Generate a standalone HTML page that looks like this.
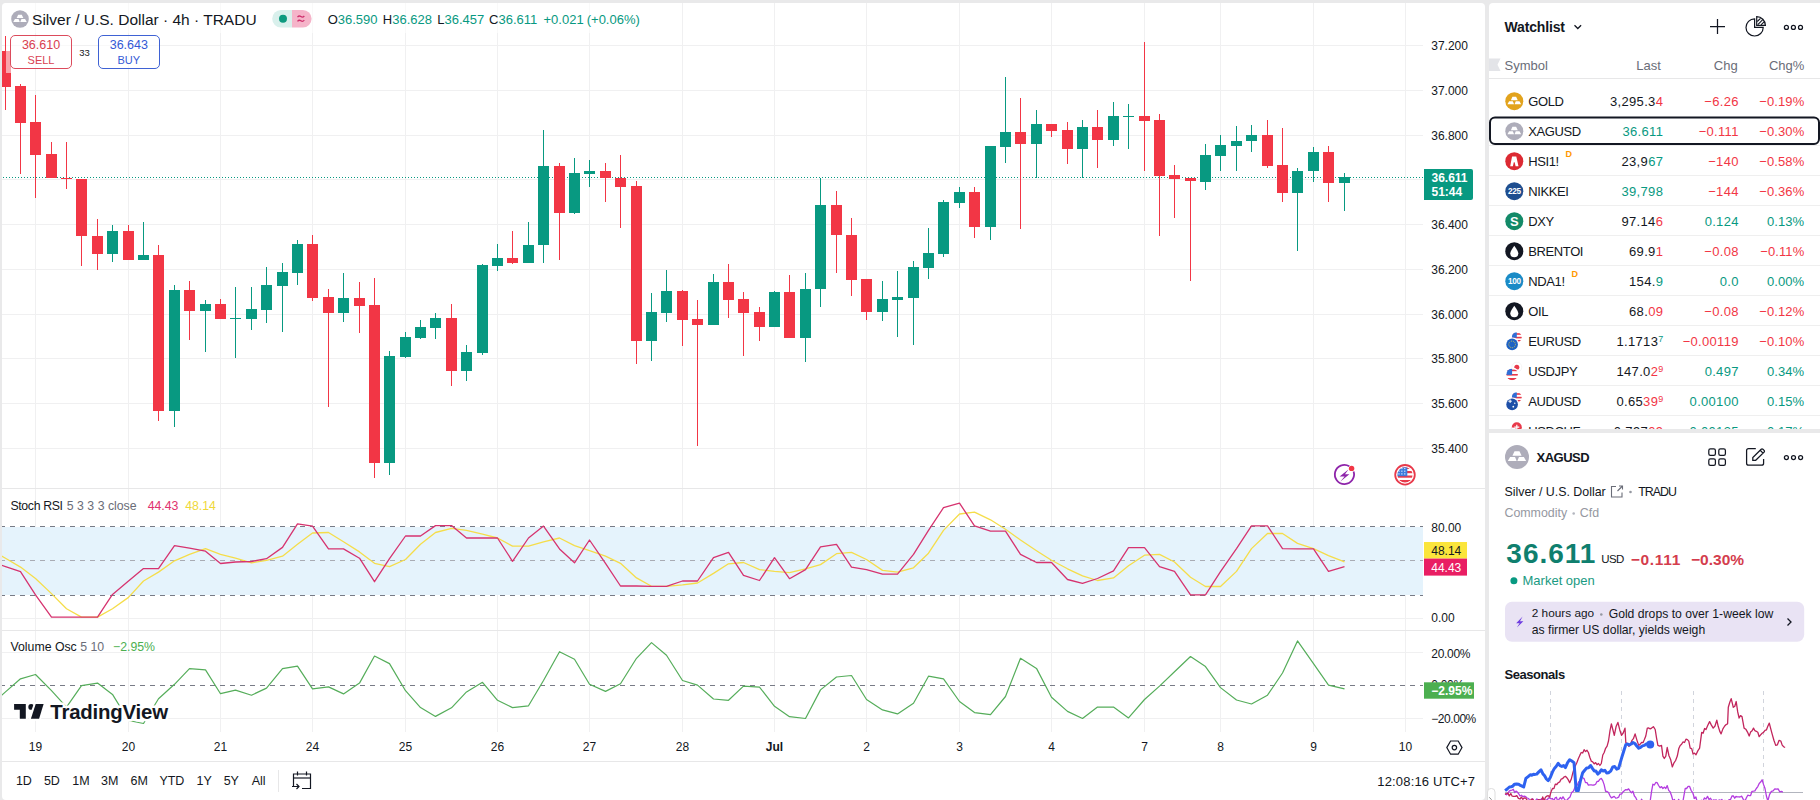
<!DOCTYPE html><html><head><meta charset="utf-8"><style>

*{box-sizing:border-box;margin:0;padding:0}
html,body{width:1820px;height:800px;overflow:hidden;background:#e9e9ea;font-family:"Liberation Sans",sans-serif;}
.abs{position:absolute;left:0;top:0}
.t{position:absolute;white-space:nowrap;line-height:1}
.sp{font-size:9px;position:relative;top:-4px;letter-spacing:0}
#chart{position:absolute;left:2px;top:3px;width:1483px;height:797px;background:#fff;border-radius:4px;overflow:hidden}
#chart .inner{position:absolute;left:-2px;top:-3px;width:1820px;height:800px}
#wl{position:absolute;left:1489px;top:3px;width:331px;height:426px;background:#fff;border-radius:4px 0 0 0;overflow:hidden}
#wl .inner,#dt .inner{position:absolute;left:-1489px;top:-3px;width:1820px;height:800px}
#dt .inner{top:-433px}
#dt{position:absolute;left:1489px;top:433px;width:331px;height:370px;background:#fff;border-radius:0;overflow:hidden}

</style></head><body>
<div id="chart"><div class="inner">
<svg class="abs" width="1485" height="800" viewBox="0 0 1485 800"><g shape-rendering="crispEdges">
<line x1="35.5" y1="0" x2="35.5" y2="488" stroke="#f0f0f1" />
<line x1="35.5" y1="489" x2="35.5" y2="630" stroke="#f0f0f1" />
<line x1="35.5" y1="631" x2="35.5" y2="732" stroke="#f0f0f1" />
<line x1="128.5" y1="0" x2="128.5" y2="488" stroke="#f0f0f1" />
<line x1="128.5" y1="489" x2="128.5" y2="630" stroke="#f0f0f1" />
<line x1="128.5" y1="631" x2="128.5" y2="732" stroke="#f0f0f1" />
<line x1="220.5" y1="0" x2="220.5" y2="488" stroke="#f0f0f1" />
<line x1="220.5" y1="489" x2="220.5" y2="630" stroke="#f0f0f1" />
<line x1="220.5" y1="631" x2="220.5" y2="732" stroke="#f0f0f1" />
<line x1="312.5" y1="0" x2="312.5" y2="488" stroke="#f0f0f1" />
<line x1="312.5" y1="489" x2="312.5" y2="630" stroke="#f0f0f1" />
<line x1="312.5" y1="631" x2="312.5" y2="732" stroke="#f0f0f1" />
<line x1="405.5" y1="0" x2="405.5" y2="488" stroke="#f0f0f1" />
<line x1="405.5" y1="489" x2="405.5" y2="630" stroke="#f0f0f1" />
<line x1="405.5" y1="631" x2="405.5" y2="732" stroke="#f0f0f1" />
<line x1="497.5" y1="0" x2="497.5" y2="488" stroke="#f0f0f1" />
<line x1="497.5" y1="489" x2="497.5" y2="630" stroke="#f0f0f1" />
<line x1="497.5" y1="631" x2="497.5" y2="732" stroke="#f0f0f1" />
<line x1="589.5" y1="0" x2="589.5" y2="488" stroke="#f0f0f1" />
<line x1="589.5" y1="489" x2="589.5" y2="630" stroke="#f0f0f1" />
<line x1="589.5" y1="631" x2="589.5" y2="732" stroke="#f0f0f1" />
<line x1="682.5" y1="0" x2="682.5" y2="488" stroke="#f0f0f1" />
<line x1="682.5" y1="489" x2="682.5" y2="630" stroke="#f0f0f1" />
<line x1="682.5" y1="631" x2="682.5" y2="732" stroke="#f0f0f1" />
<line x1="774.5" y1="0" x2="774.5" y2="488" stroke="#f0f0f1" />
<line x1="774.5" y1="489" x2="774.5" y2="630" stroke="#f0f0f1" />
<line x1="774.5" y1="631" x2="774.5" y2="732" stroke="#f0f0f1" />
<line x1="866.5" y1="0" x2="866.5" y2="488" stroke="#f0f0f1" />
<line x1="866.5" y1="489" x2="866.5" y2="630" stroke="#f0f0f1" />
<line x1="866.5" y1="631" x2="866.5" y2="732" stroke="#f0f0f1" />
<line x1="959.5" y1="0" x2="959.5" y2="488" stroke="#f0f0f1" />
<line x1="959.5" y1="489" x2="959.5" y2="630" stroke="#f0f0f1" />
<line x1="959.5" y1="631" x2="959.5" y2="732" stroke="#f0f0f1" />
<line x1="1051.5" y1="0" x2="1051.5" y2="488" stroke="#f0f0f1" />
<line x1="1051.5" y1="489" x2="1051.5" y2="630" stroke="#f0f0f1" />
<line x1="1051.5" y1="631" x2="1051.5" y2="732" stroke="#f0f0f1" />
<line x1="1144.5" y1="0" x2="1144.5" y2="488" stroke="#f0f0f1" />
<line x1="1144.5" y1="489" x2="1144.5" y2="630" stroke="#f0f0f1" />
<line x1="1144.5" y1="631" x2="1144.5" y2="732" stroke="#f0f0f1" />
<line x1="1220.5" y1="0" x2="1220.5" y2="488" stroke="#f0f0f1" />
<line x1="1220.5" y1="489" x2="1220.5" y2="630" stroke="#f0f0f1" />
<line x1="1220.5" y1="631" x2="1220.5" y2="732" stroke="#f0f0f1" />
<line x1="1313.5" y1="0" x2="1313.5" y2="488" stroke="#f0f0f1" />
<line x1="1313.5" y1="489" x2="1313.5" y2="630" stroke="#f0f0f1" />
<line x1="1313.5" y1="631" x2="1313.5" y2="732" stroke="#f0f0f1" />
<line x1="1405.5" y1="0" x2="1405.5" y2="488" stroke="#f0f0f1" />
<line x1="1405.5" y1="489" x2="1405.5" y2="630" stroke="#f0f0f1" />
<line x1="1405.5" y1="631" x2="1405.5" y2="732" stroke="#f0f0f1" />
<line x1="0" y1="45.5" x2="1423" y2="45.5" stroke="#f0f0f1" />
<line x1="0" y1="90.5" x2="1423" y2="90.5" stroke="#f0f0f1" />
<line x1="0" y1="135.5" x2="1423" y2="135.5" stroke="#f0f0f1" />
<line x1="0" y1="179.5" x2="1423" y2="179.5" stroke="#f0f0f1" />
<line x1="0" y1="224.5" x2="1423" y2="224.5" stroke="#f0f0f1" />
<line x1="0" y1="269.5" x2="1423" y2="269.5" stroke="#f0f0f1" />
<line x1="0" y1="314.5" x2="1423" y2="314.5" stroke="#f0f0f1" />
<line x1="0" y1="358.5" x2="1423" y2="358.5" stroke="#f0f0f1" />
<line x1="0" y1="403.5" x2="1423" y2="403.5" stroke="#f0f0f1" />
<line x1="0" y1="448.5" x2="1423" y2="448.5" stroke="#f0f0f1" />
<line x1="0" y1="572.5" x2="1423" y2="572.5" stroke="#f0f0f1" />
<line x1="0" y1="618.5" x2="1423" y2="618.5" stroke="#f0f0f1" />
<line x1="0" y1="652.5" x2="1423" y2="652.5" stroke="#f0f0f1" />
<line x1="0" y1="718.5" x2="1423" y2="718.5" stroke="#f0f0f1" />
<rect x="0" y="527" width="1423" height="68" fill="#e5f3fc" />
<line x1="0" y1="526.5" x2="1423" y2="526.5" stroke="#787b86" stroke-dasharray="5 5" />
<line x1="0" y1="595.5" x2="1423" y2="595.5" stroke="#787b86" stroke-dasharray="5 5" />
<line x1="0" y1="560.5" x2="1423" y2="560.5" stroke="#a9acb4" stroke-dasharray="5 5" />
<line x1="0" y1="685.5" x2="1423" y2="685.5" stroke="#787b86" stroke-dasharray="5 5" />
<line x1="0" y1="488.5" x2="1485" y2="488.5" stroke="#e7e7e8" />
<line x1="0" y1="630.5" x2="1485" y2="630.5" stroke="#e7e7e8" />
<line x1="0" y1="761.5" x2="1485" y2="761.5" stroke="#e7e7e8" />
<line x1="0" y1="177.5" x2="1423" y2="177.5" stroke="#089981" stroke-dasharray="1 2" />
<rect x="5" y="36" width="1" height="74" fill="#f23645" />
<rect x="0" y="51" width="11" height="36" fill="#f23645" />
<rect x="20" y="84" width="1" height="90" fill="#f23645" />
<rect x="15" y="86" width="11" height="37" fill="#f23645" />
<rect x="35" y="95" width="1" height="103" fill="#f23645" />
<rect x="30" y="122" width="11" height="33" fill="#f23645" />
<rect x="51" y="142" width="1" height="36" fill="#f23645" />
<rect x="46" y="154" width="11" height="24" fill="#f23645" />
<rect x="66" y="142" width="1" height="47" fill="#f23645" />
<rect x="61" y="178" width="11" height="1" fill="#f23645" />
<rect x="81" y="179" width="1" height="87" fill="#f23645" />
<rect x="76" y="179" width="11" height="57" fill="#f23645" />
<rect x="97" y="219" width="1" height="51" fill="#f23645" />
<rect x="92" y="236" width="11" height="18" fill="#f23645" />
<rect x="112" y="225" width="1" height="37" fill="#089981" />
<rect x="107" y="231" width="11" height="23" fill="#089981" />
<rect x="128" y="225" width="1" height="35" fill="#f23645" />
<rect x="123" y="231" width="11" height="29" fill="#f23645" />
<rect x="143" y="222" width="1" height="38" fill="#089981" />
<rect x="138" y="255" width="11" height="5" fill="#089981" />
<rect x="158" y="245" width="1" height="176" fill="#f23645" />
<rect x="153" y="255" width="11" height="156" fill="#f23645" />
<rect x="174" y="285" width="1" height="142" fill="#089981" />
<rect x="169" y="290" width="11" height="121" fill="#089981" />
<rect x="189" y="281" width="1" height="59" fill="#f23645" />
<rect x="184" y="290" width="11" height="21" fill="#f23645" />
<rect x="205" y="300" width="1" height="52" fill="#089981" />
<rect x="200" y="304" width="11" height="7" fill="#089981" />
<rect x="220" y="299" width="1" height="20" fill="#f23645" />
<rect x="215" y="304" width="11" height="15" fill="#f23645" />
<rect x="235" y="287" width="1" height="71" fill="#089981" />
<rect x="230" y="318" width="11" height="1" fill="#089981" />
<rect x="251" y="287" width="1" height="43" fill="#089981" />
<rect x="246" y="309" width="11" height="10" fill="#089981" />
<rect x="266" y="267" width="1" height="56" fill="#089981" />
<rect x="261" y="285" width="11" height="25" fill="#089981" />
<rect x="282" y="263" width="1" height="69" fill="#089981" />
<rect x="277" y="272" width="11" height="14" fill="#089981" />
<rect x="297" y="240" width="1" height="45" fill="#089981" />
<rect x="292" y="244" width="11" height="29" fill="#089981" />
<rect x="312" y="235" width="1" height="66" fill="#f23645" />
<rect x="307" y="244" width="11" height="54" fill="#f23645" />
<rect x="328" y="289" width="1" height="118" fill="#f23645" />
<rect x="323" y="297" width="11" height="16" fill="#f23645" />
<rect x="343" y="273" width="1" height="49" fill="#089981" />
<rect x="338" y="298" width="11" height="15" fill="#089981" />
<rect x="359" y="282" width="1" height="51" fill="#f23645" />
<rect x="354" y="298" width="11" height="8" fill="#f23645" />
<rect x="374" y="278" width="1" height="200" fill="#f23645" />
<rect x="369" y="305" width="11" height="158" fill="#f23645" />
<rect x="389" y="351" width="1" height="124" fill="#089981" />
<rect x="384" y="356" width="11" height="107" fill="#089981" />
<rect x="405" y="332" width="1" height="26" fill="#089981" />
<rect x="400" y="337" width="11" height="20" fill="#089981" />
<rect x="420" y="320" width="1" height="19" fill="#089981" />
<rect x="415" y="327" width="11" height="11" fill="#089981" />
<rect x="435" y="313" width="1" height="26" fill="#089981" />
<rect x="430" y="318" width="11" height="10" fill="#089981" />
<rect x="451" y="304" width="1" height="82" fill="#f23645" />
<rect x="446" y="318" width="11" height="53" fill="#f23645" />
<rect x="466" y="345" width="1" height="36" fill="#089981" />
<rect x="461" y="352" width="11" height="19" fill="#089981" />
<rect x="482" y="264" width="1" height="91" fill="#089981" />
<rect x="477" y="265" width="11" height="88" fill="#089981" />
<rect x="497" y="244" width="1" height="27" fill="#089981" />
<rect x="492" y="258" width="11" height="8" fill="#089981" />
<rect x="512" y="231" width="1" height="33" fill="#f23645" />
<rect x="507" y="258" width="11" height="5" fill="#f23645" />
<rect x="528" y="222" width="1" height="41" fill="#089981" />
<rect x="523" y="245" width="11" height="18" fill="#089981" />
<rect x="543" y="130" width="1" height="133" fill="#089981" />
<rect x="538" y="166" width="11" height="79" fill="#089981" />
<rect x="559" y="163" width="1" height="97" fill="#f23645" />
<rect x="554" y="166" width="11" height="47" fill="#f23645" />
<rect x="574" y="158" width="1" height="56" fill="#089981" />
<rect x="569" y="173" width="11" height="40" fill="#089981" />
<rect x="589" y="160" width="1" height="27" fill="#089981" />
<rect x="584" y="171" width="11" height="3" fill="#089981" />
<rect x="605" y="163" width="1" height="39" fill="#f23645" />
<rect x="600" y="171" width="11" height="7" fill="#f23645" />
<rect x="620" y="155" width="1" height="73" fill="#f23645" />
<rect x="615" y="178" width="11" height="9" fill="#f23645" />
<rect x="636" y="181" width="1" height="183" fill="#f23645" />
<rect x="631" y="186" width="11" height="155" fill="#f23645" />
<rect x="651" y="293" width="1" height="68" fill="#089981" />
<rect x="646" y="312" width="11" height="29" fill="#089981" />
<rect x="666" y="270" width="1" height="52" fill="#089981" />
<rect x="661" y="291" width="11" height="22" fill="#089981" />
<rect x="682" y="290" width="1" height="56" fill="#f23645" />
<rect x="677" y="291" width="11" height="29" fill="#f23645" />
<rect x="697" y="300" width="1" height="146" fill="#f23645" />
<rect x="692" y="319" width="11" height="6" fill="#f23645" />
<rect x="713" y="274" width="1" height="51" fill="#089981" />
<rect x="708" y="282" width="11" height="43" fill="#089981" />
<rect x="728" y="264" width="1" height="54" fill="#f23645" />
<rect x="723" y="282" width="11" height="18" fill="#f23645" />
<rect x="743" y="292" width="1" height="64" fill="#f23645" />
<rect x="738" y="299" width="11" height="14" fill="#f23645" />
<rect x="759" y="307" width="1" height="34" fill="#f23645" />
<rect x="754" y="312" width="11" height="15" fill="#f23645" />
<rect x="774" y="291" width="1" height="36" fill="#089981" />
<rect x="769" y="292" width="11" height="35" fill="#089981" />
<rect x="789" y="275" width="1" height="63" fill="#f23645" />
<rect x="784" y="292" width="11" height="46" fill="#f23645" />
<rect x="805" y="273" width="1" height="89" fill="#089981" />
<rect x="800" y="289" width="11" height="49" fill="#089981" />
<rect x="820" y="178" width="1" height="129" fill="#089981" />
<rect x="815" y="205" width="11" height="84" fill="#089981" />
<rect x="836" y="191" width="1" height="82" fill="#f23645" />
<rect x="831" y="205" width="11" height="30" fill="#f23645" />
<rect x="851" y="218" width="1" height="78" fill="#f23645" />
<rect x="846" y="235" width="11" height="45" fill="#f23645" />
<rect x="866" y="279" width="1" height="41" fill="#f23645" />
<rect x="861" y="279" width="11" height="33" fill="#f23645" />
<rect x="882" y="281" width="1" height="40" fill="#089981" />
<rect x="877" y="299" width="11" height="13" fill="#089981" />
<rect x="897" y="271" width="1" height="66" fill="#089981" />
<rect x="892" y="297" width="11" height="3" fill="#089981" />
<rect x="913" y="261" width="1" height="84" fill="#089981" />
<rect x="908" y="267" width="11" height="31" fill="#089981" />
<rect x="928" y="228" width="1" height="51" fill="#089981" />
<rect x="923" y="253" width="11" height="15" fill="#089981" />
<rect x="943" y="200" width="1" height="57" fill="#089981" />
<rect x="938" y="202" width="11" height="52" fill="#089981" />
<rect x="959" y="187" width="1" height="21" fill="#089981" />
<rect x="954" y="192" width="11" height="11" fill="#089981" />
<rect x="974" y="187" width="1" height="51" fill="#f23645" />
<rect x="969" y="192" width="11" height="35" fill="#f23645" />
<rect x="990" y="146" width="1" height="94" fill="#089981" />
<rect x="985" y="146" width="11" height="81" fill="#089981" />
<rect x="1005" y="77" width="1" height="86" fill="#089981" />
<rect x="1000" y="132" width="11" height="15" fill="#089981" />
<rect x="1020" y="98" width="1" height="131" fill="#f23645" />
<rect x="1015" y="132" width="11" height="12" fill="#f23645" />
<rect x="1036" y="110" width="1" height="68" fill="#089981" />
<rect x="1031" y="124" width="11" height="20" fill="#089981" />
<rect x="1051" y="124" width="1" height="13" fill="#f23645" />
<rect x="1046" y="124" width="11" height="7" fill="#f23645" />
<rect x="1067" y="122" width="1" height="42" fill="#f23645" />
<rect x="1062" y="130" width="11" height="19" fill="#f23645" />
<rect x="1082" y="120" width="1" height="58" fill="#089981" />
<rect x="1077" y="127" width="11" height="22" fill="#089981" />
<rect x="1097" y="110" width="1" height="58" fill="#f23645" />
<rect x="1092" y="127" width="11" height="13" fill="#f23645" />
<rect x="1113" y="102" width="1" height="44" fill="#089981" />
<rect x="1108" y="116" width="11" height="24" fill="#089981" />
<rect x="1128" y="104" width="1" height="45" fill="#089981" />
<rect x="1123" y="116" width="11" height="1" fill="#089981" />
<rect x="1144" y="42" width="1" height="129" fill="#f23645" />
<rect x="1139" y="116" width="11" height="5" fill="#f23645" />
<rect x="1159" y="114" width="1" height="122" fill="#f23645" />
<rect x="1154" y="120" width="11" height="56" fill="#f23645" />
<rect x="1174" y="165" width="1" height="53" fill="#f23645" />
<rect x="1169" y="175" width="11" height="4" fill="#f23645" />
<rect x="1190" y="178" width="1" height="103" fill="#f23645" />
<rect x="1185" y="178" width="11" height="3" fill="#f23645" />
<rect x="1205" y="144" width="1" height="46" fill="#089981" />
<rect x="1200" y="155" width="11" height="27" fill="#089981" />
<rect x="1220" y="135" width="1" height="36" fill="#089981" />
<rect x="1215" y="145" width="11" height="11" fill="#089981" />
<rect x="1236" y="126" width="1" height="45" fill="#089981" />
<rect x="1231" y="141" width="11" height="5" fill="#089981" />
<rect x="1251" y="125" width="1" height="27" fill="#089981" />
<rect x="1246" y="135" width="11" height="6" fill="#089981" />
<rect x="1267" y="120" width="1" height="48" fill="#f23645" />
<rect x="1262" y="135" width="11" height="31" fill="#f23645" />
<rect x="1282" y="128" width="1" height="74" fill="#f23645" />
<rect x="1277" y="165" width="11" height="28" fill="#f23645" />
<rect x="1297" y="168" width="1" height="83" fill="#089981" />
<rect x="1292" y="171" width="11" height="22" fill="#089981" />
<rect x="1313" y="147" width="1" height="35" fill="#089981" />
<rect x="1308" y="152" width="11" height="19" fill="#089981" />
<rect x="1328" y="146" width="1" height="56" fill="#f23645" />
<rect x="1323" y="152" width="11" height="31" fill="#f23645" />
<rect x="1344" y="173" width="1" height="38" fill="#089981" />
<rect x="1339" y="177" width="11" height="6" fill="#089981" />
</g>
<rect x="0" y="3" width="645" height="30" fill="#fff" fill-opacity="0.6" />
<rect x="6" y="35" width="5" height="38" fill="#fff" fill-opacity="0.55" />
<polyline points="0,555.0 5.5,558.2 20.5,567.1 35.5,578.5 51.5,593.6 66.5,608.8 81.5,617.1 97.5,617.1 112.5,608.8 128.5,597.4 143.5,581.0 158.5,572.1 174.5,560.8 189.5,554.4 205.5,548.6 220.5,554.4 235.5,558.2 251.5,562.8 266.5,560.3 282.5,556.2 297.5,544.3 312.5,533.0 328.5,532.5 343.5,541.8 359.5,551.9 374.5,563.3 389.5,566.6 405.5,559.5 420.5,544.3 435.5,532.5 451.5,528.4 466.5,530.4 482.5,534.2 497.5,538.0 512.5,546.1 528.5,546.1 543.5,541.8 559.5,538.0 574.5,545.6 589.5,550.7 605.5,556.2 620.5,563.3 636.5,577.9 651.5,586.3 666.5,586.3 682.5,584.8 697.5,583.0 713.5,573.4 728.5,563.8 743.5,562.5 759.5,569.6 774.5,571.4 789.5,572.6 805.5,568.8 820.5,564.6 836.5,553.7 851.5,552.4 866.5,559.5 882.5,570.4 897.5,572.1 913.5,567.8 928.5,553.2 943.5,530.4 959.5,514.0 974.5,512.2 990.5,519.8 1005.5,529.2 1020.5,540.0 1036.5,550.7 1051.5,560.3 1067.5,568.8 1082.5,575.9 1097.5,580.5 1113.5,577.9 1128.5,565.8 1144.5,555.2 1159.5,554.4 1174.5,562.0 1190.5,577.2 1205.5,586.5 1220.5,586.5 1236.5,571.4 1251.5,548.6 1267.5,533.5 1282.5,533.5 1297.5,543.4 1313.5,548.6 1328.5,555.6 1344.5,561.8" fill="none" stroke="#f5dd4a" stroke-width="1.3" stroke-linejoin="round" />
<polyline points="0,564.7 5.5,566.6 20.5,571.6 35.5,594.9 51.5,617.1 66.5,617.1 81.5,617.1 97.5,617.1 112.5,594.4 128.5,581.0 143.5,568.6 158.5,568.6 174.5,545.6 189.5,548.1 205.5,551.2 220.5,563.5 235.5,562.0 251.5,561.5 266.5,558.7 282.5,547.4 297.5,523.9 312.5,526.1 328.5,548.9 343.5,548.9 359.5,558.2 374.5,581.7 389.5,558.7 405.5,536.0 420.5,536.0 435.5,525.6 451.5,525.6 466.5,538.0 482.5,538.0 497.5,538.0 512.5,561.3 528.5,538.0 543.5,526.1 559.5,548.9 574.5,562.8 589.5,540.0 605.5,563.3 620.5,586.0 636.5,586.0 651.5,586.3 666.5,586.3 682.5,581.0 697.5,581.0 713.5,557.7 728.5,552.4 743.5,575.4 759.5,580.5 774.5,557.7 789.5,578.7 805.5,569.6 820.5,546.9 836.5,544.3 851.5,567.1 866.5,569.6 882.5,574.2 897.5,574.2 913.5,554.4 928.5,530.4 943.5,507.7 959.5,503.1 974.5,525.9 990.5,531.2 1005.5,531.2 1020.5,554.4 1036.5,562.5 1051.5,562.5 1067.5,579.5 1082.5,583.3 1097.5,578.5 1113.5,570.9 1128.5,547.6 1144.5,547.6 1159.5,566.6 1174.5,571.4 1190.5,594.9 1205.5,594.9 1220.5,571.6 1236.5,548.6 1251.5,525.9 1267.5,525.9 1282.5,548.6 1297.5,548.8 1313.5,548.8 1328.5,571.4 1344.5,566.7" fill="none" stroke="#d6336f" stroke-width="1.3" stroke-linejoin="round" />
<polyline points="0,696.7 5.5,691.9 20.5,678.8 35.5,674.5 51.5,690.7 66.5,707.1 81.5,685.6 97.5,683.1 112.5,694.4 128.5,720.5 143.5,723.5 158.5,698.7 174.5,684.3 189.5,668.7 205.5,669.9 220.5,693.7 235.5,690.1 251.5,695.2 266.5,688.1 282.5,668.7 297.5,666.1 312.5,688.9 328.5,686.9 343.5,693.9 359.5,683.1 374.5,656.0 389.5,663.6 405.5,690.7 420.5,707.6 435.5,716.4 451.5,707.8 466.5,691.9 482.5,682.3 497.5,700.3 512.5,707.6 528.5,705.8 543.5,680.5 559.5,651.7 574.5,659.3 589.5,684.3 605.5,691.4 620.5,683.8 636.5,658.3 651.5,642.6 666.5,655.3 682.5,680.5 697.5,685.1 713.5,699.0 728.5,700.3 743.5,686.1 759.5,687.1 774.5,706.3 789.5,716.7 805.5,718.5 820.5,689.9 836.5,677.0 851.5,675.5 866.5,699.5 882.5,709.9 897.5,713.9 913.5,703.3 928.5,676.2 943.5,678.8 959.5,701.5 974.5,712.6 990.5,714.7 1005.5,696.5 1020.5,658.3 1036.5,668.4 1051.5,697.2 1067.5,711.4 1082.5,718.5 1097.5,707.1 1113.5,707.1 1128.5,717.9 1144.5,699.5 1159.5,686.1 1174.5,671.7 1190.5,656.5 1205.5,666.6 1220.5,687.6 1236.5,700.0 1251.5,704.0 1267.5,695.2 1282.5,673.0 1297.5,640.9 1313.5,663.6 1328.5,685.1 1344.5,688.9" fill="none" stroke="#55ad5a" stroke-width="1.2" stroke-linejoin="round" />
<rect x="10.5" y="35.5" width="61" height="33" rx="4.5" fill="#fff" fill-opacity="0.6" stroke="#dc4b5c" />
<rect x="98.5" y="35.5" width="61" height="33" rx="4.5" fill="#fff" fill-opacity="0.6" stroke="#3f62d4" />
<g transform="translate(20,19) scale(0.9777777777777779)"><circle cx="0" cy="0" r="9" fill="#aeadba" /><path d="M-1.85,-4.37 L1.85,-4.37 L3.44,-0.93 L-3.44,-0.93 Z" fill="#fff"/><path d="M-5.16,0 L-1.46,0 L-0.26,3.04 L-6.88,3.04 Z" fill="#fff"/><path d="M1.46,0 L5.16,0 L6.88,3.04 L0.26,3.04 Z" fill="#fff"/></g>
<path d="M281,10 H292 V27.6 H281 A8.8,8.8 0 0 1 281,10 Z" fill="#d9f0ec" />
<path d="M292,10 H302.8 A8.8,8.8 0 0 1 302.8,27.6 H292 Z" fill="#f5b4c9" />
<circle cx="283" cy="18.8" r="4" fill="#0e9a7f" />
<path d="M297.5,17.2 q1.6,-2 3.4,-0.6 q1.8,1.4 3.4,-0.6 M297.5,21.4 q1.6,-2 3.4,-0.6 q1.8,1.4 3.4,-0.6" fill="none" stroke="#cf2f6c" stroke-width="1.3" />
<path d="M1424,169 H1471 A2,2 0 0 1 1473,171 V198 A2,2 0 0 1 1471,200 H1424 Z" fill="#089981" />
<g fill="none" stroke="#8e24aa" stroke-width="1.8"><path d="M1349.3,466.2 A9.6,9.6 0 1 0 1353.6,471.6" /></g>
<circle cx="1351.6" cy="468.4" r="2.7" fill="#f23645" />
<path d="M1348.4,469.5 L1339.6,476.4 L1344.6,476.4 L1340.4,481.4 L1349.4,474.3 L1345.0,474.3 Z" fill="#8e24aa" />
<circle cx="1405" cy="474.8" r="9.8" fill="#fff" stroke="#e8394a" stroke-width="1.8" />
<clipPath id="fc"><circle cx="1405" cy="474.8" r="7.6" /></clipPath>
<g clip-path="url(#fc)"><rect x="1396" y="466" width="18" height="18" fill="#fff"/><rect x="1396" y="467" width="18" height="2" fill="#e8394a"/><rect x="1396" y="471" width="18" height="2.2" fill="#e8394a"/><rect x="1396" y="475.5" width="18" height="2.2" fill="#e8394a"/><rect x="1396" y="480" width="18" height="3" fill="#e8394a"/><rect x="1396" y="466" width="11.3" height="10.2" fill="#3d7bdc"/><rect x="1398.3" y="467.9" width="1.3" height="1.2" fill="#cfe6ff"/><rect x="1398.3" y="470.6" width="1.3" height="1.2" fill="#cfe6ff"/><rect x="1398.3" y="473.3" width="1.3" height="1.2" fill="#cfe6ff"/><rect x="1401.2" y="467.9" width="1.3" height="1.2" fill="#cfe6ff"/><rect x="1401.2" y="470.6" width="1.3" height="1.2" fill="#cfe6ff"/><rect x="1401.2" y="473.3" width="1.3" height="1.2" fill="#cfe6ff"/><rect x="1404.1" y="467.9" width="1.3" height="1.2" fill="#cfe6ff"/><rect x="1404.1" y="470.6" width="1.3" height="1.2" fill="#cfe6ff"/><rect x="1404.1" y="473.3" width="1.3" height="1.2" fill="#cfe6ff"/></g>
<rect x="1424" y="542" width="43" height="16.6" fill="#fbe53c" />
<rect x="1424" y="558.6" width="43" height="17" fill="#e91e63" />
<text x="1431.3" y="688.6" font-family="Liberation Sans" font-size="12" fill="#131722" letter-spacing="-0.3">0.00%</text>
<rect x="1424" y="682.3" width="50" height="16.4" fill="#4caf50" />
<g fill="#131722" stroke="#fff" stroke-width="4" stroke-linejoin="round" paint-order="stroke"><path d="M14.1,704.1 H25.8 V718.7 H19.8 V709.8 H14.1 Z" /><circle cx="31.2" cy="706.9" r="2.9" /><path d="M35.7,704.1 H43.6 L39.1,718.7 H30.9 Z" /></g>
<text x="50.3" y="718.7" font-family="Liberation Sans" font-weight="700" font-size="20.4" letter-spacing="-0.2" fill="#131722" stroke="#fff" stroke-width="5" stroke-linejoin="round" paint-order="stroke">TradingView</text>
<path d="M1450.6,741 L1458.2,741 L1462,747.6 L1458.2,754.2 L1450.6,754.2 L1446.8,747.6 Z" fill="none" stroke="#131722" stroke-width="1.2" />
<circle cx="1454.4" cy="747.6" r="2.2" fill="none" stroke="#131722" stroke-width="1.2" />
<rect x="278" y="770" width="1" height="22" fill="#e7e7e8" />
<g fill="none" stroke="#131722" stroke-width="1.2"><path d="M293.5,786 V774 H310.5 V788.5 H302" /><path d="M293.5,778 H310.5" /><path d="M297.5,771.5 V775.5 M306.5,771.5 V775.5" /><path d="M292,786.5 H299 M296.5,784 L299,786.5 L296.5,789" /></g></svg>
<div class="t" style="left:41.00px;transform:translateX(-50%);top:39.29px;font-size:12.5px;color:#d9404f;font-weight:400;">36.610</div>
<div class="t" style="left:41.00px;transform:translateX(-50%);top:54.63px;font-size:11px;color:#d9404f;font-weight:400;">SELL</div>
<div class="t" style="left:84.50px;transform:translateX(-50%);top:48.26px;font-size:9.5px;color:#131722;font-weight:400;">33</div>
<div class="t" style="left:128.80px;transform:translateX(-50%);top:39.29px;font-size:12.5px;color:#3459d6;font-weight:400;">36.643</div>
<div class="t" style="left:128.80px;transform:translateX(-50%);top:54.63px;font-size:11px;color:#3459d6;font-weight:400;">BUY</div>
<div class="t" style="left:32.07px;top:11.73px;font-size:15.5px;color:#131722;font-weight:400;">Silver / U.S. Dollar · 4h · TRADU</div>
<div class="t" style="left:327.82px;top:12.95px;font-size:13px;color:#131722;font-weight:400;">O</div>
<div class="t" style="left:337.72px;top:12.95px;font-size:13px;color:#089981;font-weight:400;">36.590</div>
<div class="t" style="left:382.72px;top:12.95px;font-size:13px;color:#131722;font-weight:400;">H</div>
<div class="t" style="left:392.22px;top:12.95px;font-size:13px;color:#089981;font-weight:400;">36.628</div>
<div class="t" style="left:437.22px;top:12.95px;font-size:13px;color:#131722;font-weight:400;">L</div>
<div class="t" style="left:444.52px;top:12.95px;font-size:13px;color:#089981;font-weight:400;">36.457</div>
<div class="t" style="left:489.12px;top:12.95px;font-size:13px;color:#131722;font-weight:400;">C</div>
<div class="t" style="left:498.52px;top:12.95px;font-size:13px;color:#089981;font-weight:400;">36.611</div>
<div class="t" style="left:543.52px;top:12.95px;font-size:13px;color:#089981;font-weight:400;">+0.021</div>
<div class="t" style="left:586.72px;top:12.95px;font-size:13px;color:#089981;font-weight:400;">(+0.06%)</div>
<div class="t" style="left:1431.28px;top:39.94px;font-size:12px;color:#131722;font-weight:400;">37.200</div>
<div class="t" style="left:1431.28px;top:84.72px;font-size:12px;color:#131722;font-weight:400;">37.000</div>
<div class="t" style="left:1431.28px;top:129.50px;font-size:12px;color:#131722;font-weight:400;">36.800</div>
<div class="t" style="left:1431.28px;top:219.06px;font-size:12px;color:#131722;font-weight:400;">36.400</div>
<div class="t" style="left:1431.28px;top:263.84px;font-size:12px;color:#131722;font-weight:400;">36.200</div>
<div class="t" style="left:1431.28px;top:308.62px;font-size:12px;color:#131722;font-weight:400;">36.000</div>
<div class="t" style="left:1431.28px;top:353.40px;font-size:12px;color:#131722;font-weight:400;">35.800</div>
<div class="t" style="left:1431.28px;top:398.18px;font-size:12px;color:#131722;font-weight:400;">35.600</div>
<div class="t" style="left:1431.28px;top:442.96px;font-size:12px;color:#131722;font-weight:400;">35.400</div>
<div class="t" style="left:1431.48px;top:171.64px;font-size:12px;color:#fff;font-weight:700;">36.611</div>
<div class="t" style="left:1431.48px;top:185.74px;font-size:12px;color:#fff;font-weight:700;">51:44</div>
<div class="t" style="left:10.46px;top:499.59px;font-size:12.3px;color:#131722;font-weight:400;letter-spacing:-0.35px;">Stoch RSI</div>
<div class="t" style="left:66.86px;top:499.59px;font-size:12.3px;color:#6a6d78;font-weight:400;">5 3 3 3 close</div>
<div class="t" style="left:147.66px;top:499.59px;font-size:12.3px;color:#e0336f;font-weight:400;">44.43</div>
<div class="t" style="left:185.16px;top:499.59px;font-size:12.3px;color:#efd83a;font-weight:400;">48.14</div>
<div class="t" style="left:1431.28px;top:521.74px;font-size:12px;color:#131722;font-weight:400;">80.00</div>
<div class="t" style="left:1431.28px;top:611.94px;font-size:12px;color:#131722;font-weight:400;">0.00</div>
<div class="t" style="left:1431.28px;top:545.24px;font-size:12px;color:#131722;font-weight:400;">48.14</div>
<div class="t" style="left:1431.28px;top:562.04px;font-size:12px;color:#fff;font-weight:400;">44.43</div>
<div class="t" style="left:10.46px;top:641.49px;font-size:12.3px;color:#131722;font-weight:400;">Volume Osc</div>
<div class="t" style="left:80.26px;top:641.49px;font-size:12.3px;color:#6a6d78;font-weight:400;">5 10</div>
<div class="t" style="left:112.96px;top:641.49px;font-size:12.3px;color:#4caf50;font-weight:400;">−2.95%</div>
<div class="t" style="left:1431.28px;top:647.74px;font-size:12px;color:#131722;font-weight:400;letter-spacing:-0.3px;">20.00%</div>
<div class="t" style="left:1431.28px;top:712.94px;font-size:12px;color:#131722;font-weight:400;letter-spacing:-0.45px;">−20.00%</div>
<div class="t" style="left:1431.28px;top:684.64px;font-size:12px;color:#fff;font-weight:700;">−2.95%</div>
<div class="t" style="left:35.50px;transform:translateX(-50%);top:741.14px;font-size:12px;color:#131722;font-weight:400;">19</div>
<div class="t" style="left:128.50px;transform:translateX(-50%);top:741.14px;font-size:12px;color:#131722;font-weight:400;">20</div>
<div class="t" style="left:220.50px;transform:translateX(-50%);top:741.14px;font-size:12px;color:#131722;font-weight:400;">21</div>
<div class="t" style="left:312.50px;transform:translateX(-50%);top:741.14px;font-size:12px;color:#131722;font-weight:400;">24</div>
<div class="t" style="left:405.50px;transform:translateX(-50%);top:741.14px;font-size:12px;color:#131722;font-weight:400;">25</div>
<div class="t" style="left:497.50px;transform:translateX(-50%);top:741.14px;font-size:12px;color:#131722;font-weight:400;">26</div>
<div class="t" style="left:589.50px;transform:translateX(-50%);top:741.14px;font-size:12px;color:#131722;font-weight:400;">27</div>
<div class="t" style="left:682.50px;transform:translateX(-50%);top:741.14px;font-size:12px;color:#131722;font-weight:400;">28</div>
<div class="t" style="left:774.50px;transform:translateX(-50%);top:741.14px;font-size:12px;color:#131722;font-weight:700;">Jul</div>
<div class="t" style="left:866.50px;transform:translateX(-50%);top:741.14px;font-size:12px;color:#131722;font-weight:400;">2</div>
<div class="t" style="left:959.50px;transform:translateX(-50%);top:741.14px;font-size:12px;color:#131722;font-weight:400;">3</div>
<div class="t" style="left:1051.50px;transform:translateX(-50%);top:741.14px;font-size:12px;color:#131722;font-weight:400;">4</div>
<div class="t" style="left:1144.50px;transform:translateX(-50%);top:741.14px;font-size:12px;color:#131722;font-weight:400;">7</div>
<div class="t" style="left:1220.50px;transform:translateX(-50%);top:741.14px;font-size:12px;color:#131722;font-weight:400;">8</div>
<div class="t" style="left:1313.50px;transform:translateX(-50%);top:741.14px;font-size:12px;color:#131722;font-weight:400;">9</div>
<div class="t" style="left:1405.50px;transform:translateX(-50%);top:741.14px;font-size:12px;color:#131722;font-weight:400;">10</div>
<div class="t" style="left:23.90px;transform:translateX(-50%);top:774.69px;font-size:12.5px;color:#131722;font-weight:400;">1D</div>
<div class="t" style="left:51.90px;transform:translateX(-50%);top:774.69px;font-size:12.5px;color:#131722;font-weight:400;">5D</div>
<div class="t" style="left:80.90px;transform:translateX(-50%);top:774.69px;font-size:12.5px;color:#131722;font-weight:400;">1M</div>
<div class="t" style="left:109.80px;transform:translateX(-50%);top:774.69px;font-size:12.5px;color:#131722;font-weight:400;">3M</div>
<div class="t" style="left:139.20px;transform:translateX(-50%);top:774.69px;font-size:12.5px;color:#131722;font-weight:400;">6M</div>
<div class="t" style="left:171.90px;transform:translateX(-50%);top:774.69px;font-size:12.5px;color:#131722;font-weight:400;">YTD</div>
<div class="t" style="left:204.20px;transform:translateX(-50%);top:774.69px;font-size:12.5px;color:#131722;font-weight:400;">1Y</div>
<div class="t" style="left:231.30px;transform:translateX(-50%);top:774.69px;font-size:12.5px;color:#131722;font-weight:400;">5Y</div>
<div class="t" style="left:258.70px;transform:translateX(-50%);top:774.69px;font-size:12.5px;color:#131722;font-weight:400;">All</div>
<div class="t" style="right:344.81px;top:774.55px;font-size:13px;color:#131722;font-weight:400;letter-spacing:0.15px;">12:08:16 UTC+7</div>
</div></div>
<div id="wl"><div class="inner">
<svg class="abs" width="1820" height="800" viewBox="0 0 1820 800"><path d="M1574.5,25.2 L1577.8,28.5 L1581.1,25.2" fill="none" stroke="#131722" stroke-width="1.3" />
<path d="M1717.5,19 V34 M1710,26.5 H1725" stroke="#131722" stroke-width="1.25" />
<g fill="none" stroke="#131722" stroke-width="1.2"><path d="M1754.6,18.8 A8.6,8.6 0 1 0 1763.2,27.4 H1754.6 Z" /><path d="M1756.7,16.7 A8.7,8.7 0 0 1 1765.4,25.4 H1756.7 Z" /></g>
<g stroke="#131722" stroke-width="1.1"><path d="M1757.3,21.5 L1760.5,18.3 M1757.8,24.6 L1763,19.4 M1761,24.9 L1764.6,21.3" /></g>
<circle cx="1786.4" cy="27.4" r="2.0" fill="none" stroke="#131722" stroke-width="1.25" />
<circle cx="1793.4" cy="27.4" r="2.0" fill="none" stroke="#131722" stroke-width="1.25" />
<circle cx="1800.5" cy="27.4" r="2.0" fill="none" stroke="#131722" stroke-width="1.25" />
<path d="M1489,58.5 H1500.5 L1497.5,64.7 L1500.5,70.9 H1489 Z" fill="#e3e4e8" />
<rect x="1489" y="78" width="331" height="1" fill="#e7e7e8" />
<g transform="translate(1514.3,101.2) scale(1.0)"><circle r="9" fill="#e2a31d" /><path d="M-1.85,-4.37 L1.85,-4.37 L3.44,-0.93 L-3.44,-0.93 Z" fill="#fff"/><path d="M-5.16,0 L-1.46,0 L-0.26,3.04 L-6.88,3.04 Z" fill="#fff"/><path d="M1.46,0 L5.16,0 L6.88,3.04 L0.26,3.04 Z" fill="#fff"/></g>
<rect x="1489" y="145" width="331" height="1" fill="#efefef" />
<g transform="translate(1514.3,131.2) scale(1.0)"><circle r="9" fill="#aeadba" /><path d="M-1.85,-4.37 L1.85,-4.37 L3.44,-0.93 L-3.44,-0.93 Z" fill="#fff"/><path d="M-5.16,0 L-1.46,0 L-0.26,3.04 L-6.88,3.04 Z" fill="#fff"/><path d="M1.46,0 L5.16,0 L6.88,3.04 L0.26,3.04 Z" fill="#fff"/></g>
<rect x="1489" y="175" width="331" height="1" fill="#efefef" />
<g transform="translate(1514.3,161.2) scale(1.0)"><circle r="9" fill="#dc2a33" /><path d="M-2.2,-4.6 H2 L2.4,-3 L4.2,5 H1.3 L0.3,1 H-0.5 L-1.4,5 H-4.1 L-2.6,-3 Z" fill="#fff" /></g>
<rect x="1489" y="205" width="331" height="1" fill="#efefef" />
<g transform="translate(1514.3,191.2) scale(1.0)"><circle r="9" fill="#1f4e8f" /><text x="0" y="3" text-anchor="middle" font-family="Liberation Sans" font-weight="700" font-size="8.2" fill="#fff" letter-spacing="-0.3">225</text></g>
<rect x="1489" y="235" width="331" height="1" fill="#efefef" />
<g transform="translate(1514.3,221.2) scale(1.0)"><circle r="9" fill="#138a68" /><text x="0" y="4.6" text-anchor="middle" font-family="Liberation Sans" font-weight="700" font-size="13" fill="#fff">S</text></g>
<rect x="1489" y="265" width="331" height="1" fill="#efefef" />
<g transform="translate(1514.3,251.2) scale(1.0)"><circle r="9" fill="#131722" /><path d="M0,-5.5 C2.5,-2 4,0.5 4,2 A4,4 0 0 1 -4,2 C-4,0.5 -2.5,-2 0,-5.5 Z" fill="#fff" /></g>
<rect x="1489" y="295" width="331" height="1" fill="#efefef" />
<g transform="translate(1514.3,281.2) scale(1.0)"><circle r="9" fill="#1b8bc6" /><text x="0" y="3" text-anchor="middle" font-family="Liberation Sans" font-weight="700" font-size="8.2" fill="#fff" letter-spacing="-0.3">100</text></g>
<rect x="1489" y="325" width="331" height="1" fill="#efefef" />
<g transform="translate(1514.3,311.2) scale(1.0)"><circle r="9" fill="#131722" /><path d="M0,-5.5 C2.5,-2 4,0.5 4,2 A4,4 0 0 1 -4,2 C-4,0.5 -2.5,-2 0,-5.5 Z" fill="#fff" /></g>
<rect x="1489" y="355" width="331" height="1" fill="#efefef" />
<g transform="translate(1514.3,341.2) scale(1.0)"><clipPath id="c1eurusd"><circle cx="2.5" cy="-4" r="5" /></clipPath><g clip-path="url(#c1eurusd)"><rect x="-2.5" y="-9" width="10" height="10" fill="#fff"/><rect x="-2.5" y="-8" width="10" height="1.6" fill="#e8394a"/><rect x="-2.5" y="-4.4" width="10" height="1.6" fill="#e8394a"/><rect x="-2.5" y="-1.2000000000000002" width="10" height="2.2" fill="#e8394a"/><rect x="-2.5" y="-9" width="5" height="5.5" fill="#2f6fd8"/></g><circle cx="-1.8" cy="3" r="6.6" fill="#fff" /><circle cx="-2.2" cy="3.2" r="5.8" fill="#1e62c5" /><circle cx="-2.2" cy="3.2" r="3.3" fill="none" stroke="#f5d33a" stroke-width="0.9" stroke-dasharray="0.9 1.1" /></g>
<rect x="1489" y="385" width="331" height="1" fill="#efefef" />
<g transform="translate(1514.3,371.2) scale(1.0)"><circle cx="2.5" cy="-4" r="5" fill="#fff" stroke="#eee" stroke-width="0.6"/><circle cx="2.5" cy="-4" r="2.5" fill="#e8394a" /><circle cx="-1.8" cy="3" r="6.6" fill="#fff" /><clipPath id="c2usdjpy"><circle cx="-2.2" cy="3.2" r="5.8" /></clipPath><g clip-path="url(#c2usdjpy)"><rect x="-8.0" y="-2.5999999999999996" width="11.6" height="11.6" fill="#fff"/><rect x="-8.0" y="-1.5999999999999996" width="11.6" height="1.6" fill="#e8394a"/><rect x="-8.0" y="2.8000000000000003" width="11.6" height="1.6" fill="#e8394a"/><rect x="-8.0" y="6.8" width="11.6" height="2.2" fill="#e8394a"/><rect x="-8.0" y="-2.5999999999999996" width="5.8" height="6.3" fill="#2f6fd8"/></g></g>
<rect x="1489" y="415" width="331" height="1" fill="#efefef" />
<g transform="translate(1514.3,401.2) scale(1.0)"><clipPath id="c1audusd"><circle cx="2.5" cy="-4" r="5" /></clipPath><g clip-path="url(#c1audusd)"><rect x="-2.5" y="-9" width="10" height="10" fill="#fff"/><rect x="-2.5" y="-8" width="10" height="1.6" fill="#e8394a"/><rect x="-2.5" y="-4.4" width="10" height="1.6" fill="#e8394a"/><rect x="-2.5" y="-1.2000000000000002" width="10" height="2.2" fill="#e8394a"/><rect x="-2.5" y="-9" width="5" height="5.5" fill="#2f6fd8"/></g><circle cx="-1.8" cy="3" r="6.6" fill="#fff" /><circle cx="-2.2" cy="3.2" r="5.8" fill="#1e4fa8" /><path d="M-6,0 L-2.5,0 M-4.2,-1.8 V1.8" stroke="#fff" stroke-width="1" /><circle cx="-1" cy="5.5" r="0.9" fill="#fff"/><circle cx="0.5" cy="2" r="0.7" fill="#fff"/></g>
<rect x="1489" y="445" width="331" height="1" fill="#efefef" />
<g transform="translate(1514.3,431.2) scale(1.0)"><circle cx="2.5" cy="-4" r="5" fill="#e8394a" /><path d="M2.5,-6.5 V-1.5 M0,-4 H5" stroke="#fff" stroke-width="1.2"/><circle cx="-1.8" cy="3" r="6.6" fill="#fff" /><clipPath id="c2usdchf"><circle cx="-2.2" cy="3.2" r="5.8" /></clipPath><g clip-path="url(#c2usdchf)"><rect x="-8.0" y="-2.5999999999999996" width="11.6" height="11.6" fill="#fff"/><rect x="-8.0" y="-1.5999999999999996" width="11.6" height="1.6" fill="#e8394a"/><rect x="-8.0" y="2.8000000000000003" width="11.6" height="1.6" fill="#e8394a"/><rect x="-8.0" y="6.8" width="11.6" height="2.2" fill="#e8394a"/><rect x="-8.0" y="-2.5999999999999996" width="5.8" height="6.3" fill="#2f6fd8"/></g></g>
<rect x="1490" y="117.5" width="329" height="26.5" rx="5" fill="none" stroke="#131722" stroke-width="2" /></svg>
<div class="t" style="left:1504.46px;top:20.36px;font-size:14px;color:#131722;font-weight:700;letter-spacing:-0.15px;">Watchlist</div>
<div class="t" style="left:1504.52px;top:58.95px;font-size:13px;color:#6a6d78;font-weight:400;">Symbol</div>
<div class="t" style="right:159.21px;top:58.95px;font-size:13px;color:#6a6d78;font-weight:400;">Last</div>
<div class="t" style="right:82.31px;top:58.95px;font-size:13px;color:#6a6d78;font-weight:400;">Chg</div>
<div class="t" style="right:15.71px;top:58.95px;font-size:13px;color:#6a6d78;font-weight:400;">Chg%</div>
<div class="t" style="left:1528.32px;top:94.85px;font-size:13px;color:#131722;font-weight:400;letter-spacing:-0.4px;">GOLD</div>
<div class="t" style="right:156.71px;top:94.85px;font-size:13px;color:#131722;font-weight:400;letter-spacing:0.35px;"><span style="color:#131722">3,295.3</span><span style="color:#f23645">4</span></div>
<div class="t" style="right:81.31px;top:94.85px;font-size:13px;color:#f23645;font-weight:400;letter-spacing:0.3px;">−6.26</div>
<div class="t" style="right:15.71px;top:94.85px;font-size:13px;color:#f23645;font-weight:400;letter-spacing:0.1px;">−0.19%</div>
<div class="t" style="left:1528.32px;top:124.85px;font-size:13px;color:#131722;font-weight:400;letter-spacing:-0.4px;">XAGUSD</div>
<div class="t" style="right:156.71px;top:124.85px;font-size:13px;color:#131722;font-weight:400;letter-spacing:0.35px;"><span style="color:#089981">36.611</span></div>
<div class="t" style="right:81.31px;top:124.85px;font-size:13px;color:#f23645;font-weight:400;letter-spacing:0.3px;">−0.111</div>
<div class="t" style="right:15.71px;top:124.85px;font-size:13px;color:#f23645;font-weight:400;letter-spacing:0.1px;">−0.30%</div>
<div class="t" style="left:1528.32px;top:154.85px;font-size:13px;color:#131722;font-weight:400;letter-spacing:-0.4px;">HSI1!</div>
<div class="t" style="left:1565.46px;top:149.80px;font-size:9px;color:#ff9800;font-weight:700;">D</div>
<div class="t" style="right:156.71px;top:154.85px;font-size:13px;color:#131722;font-weight:400;letter-spacing:0.35px;"><span style="color:#131722">23,9</span><span style="color:#089981">67</span></div>
<div class="t" style="right:81.31px;top:154.85px;font-size:13px;color:#f23645;font-weight:400;letter-spacing:0.3px;">−140</div>
<div class="t" style="right:15.71px;top:154.85px;font-size:13px;color:#f23645;font-weight:400;letter-spacing:0.1px;">−0.58%</div>
<div class="t" style="left:1528.32px;top:184.85px;font-size:13px;color:#131722;font-weight:400;letter-spacing:-0.4px;">NIKKEI</div>
<div class="t" style="right:156.71px;top:184.85px;font-size:13px;color:#131722;font-weight:400;letter-spacing:0.35px;"><span style="color:#089981">39,798</span></div>
<div class="t" style="right:81.31px;top:184.85px;font-size:13px;color:#f23645;font-weight:400;letter-spacing:0.3px;">−144</div>
<div class="t" style="right:15.71px;top:184.85px;font-size:13px;color:#f23645;font-weight:400;letter-spacing:0.1px;">−0.36%</div>
<div class="t" style="left:1528.32px;top:214.85px;font-size:13px;color:#131722;font-weight:400;letter-spacing:-0.4px;">DXY</div>
<div class="t" style="right:156.71px;top:214.85px;font-size:13px;color:#131722;font-weight:400;letter-spacing:0.35px;"><span style="color:#131722">97.14</span><span style="color:#f23645">6</span></div>
<div class="t" style="right:81.31px;top:214.85px;font-size:13px;color:#089981;font-weight:400;letter-spacing:0.3px;">0.124</div>
<div class="t" style="right:15.71px;top:214.85px;font-size:13px;color:#089981;font-weight:400;letter-spacing:0.1px;">0.13%</div>
<div class="t" style="left:1528.32px;top:244.85px;font-size:13px;color:#131722;font-weight:400;letter-spacing:-0.4px;">BRENTOI</div>
<div class="t" style="right:156.71px;top:244.85px;font-size:13px;color:#131722;font-weight:400;letter-spacing:0.35px;"><span style="color:#131722">69.9</span><span style="color:#f23645">1</span></div>
<div class="t" style="right:81.31px;top:244.85px;font-size:13px;color:#f23645;font-weight:400;letter-spacing:0.3px;">−0.08</div>
<div class="t" style="right:15.71px;top:244.85px;font-size:13px;color:#f23645;font-weight:400;letter-spacing:0.1px;">−0.11%</div>
<div class="t" style="left:1528.32px;top:274.85px;font-size:13px;color:#131722;font-weight:400;letter-spacing:-0.4px;">NDA1!</div>
<div class="t" style="left:1571.46px;top:269.80px;font-size:9px;color:#ff9800;font-weight:700;">D</div>
<div class="t" style="right:156.71px;top:274.85px;font-size:13px;color:#131722;font-weight:400;letter-spacing:0.35px;"><span style="color:#131722">154.</span><span style="color:#089981">9</span></div>
<div class="t" style="right:81.31px;top:274.85px;font-size:13px;color:#089981;font-weight:400;letter-spacing:0.3px;">0.0</div>
<div class="t" style="right:15.71px;top:274.85px;font-size:13px;color:#089981;font-weight:400;letter-spacing:0.1px;">0.00%</div>
<div class="t" style="left:1528.32px;top:304.85px;font-size:13px;color:#131722;font-weight:400;letter-spacing:-0.4px;">OIL</div>
<div class="t" style="right:156.71px;top:304.85px;font-size:13px;color:#131722;font-weight:400;letter-spacing:0.35px;"><span style="color:#131722">68.</span><span style="color:#f23645">09</span></div>
<div class="t" style="right:81.31px;top:304.85px;font-size:13px;color:#f23645;font-weight:400;letter-spacing:0.3px;">−0.08</div>
<div class="t" style="right:15.71px;top:304.85px;font-size:13px;color:#f23645;font-weight:400;letter-spacing:0.1px;">−0.12%</div>
<div class="t" style="left:1528.32px;top:334.85px;font-size:13px;color:#131722;font-weight:400;letter-spacing:-0.4px;">EURUSD</div>
<div class="t" style="right:156.71px;top:334.85px;font-size:13px;color:#131722;font-weight:400;letter-spacing:0.35px;"><span style="color:#131722">1.1713</span><span style="color:#089981"><span class=sp>7</span></span></div>
<div class="t" style="right:81.31px;top:334.85px;font-size:13px;color:#f23645;font-weight:400;letter-spacing:0.3px;">−0.00119</div>
<div class="t" style="right:15.71px;top:334.85px;font-size:13px;color:#f23645;font-weight:400;letter-spacing:0.1px;">−0.10%</div>
<div class="t" style="left:1528.32px;top:364.85px;font-size:13px;color:#131722;font-weight:400;letter-spacing:-0.4px;">USDJPY</div>
<div class="t" style="right:156.71px;top:364.85px;font-size:13px;color:#131722;font-weight:400;letter-spacing:0.35px;"><span style="color:#131722">147.0</span><span style="color:#f23645">2</span><span style="color:#f23645"><span class=sp>9</span></span></div>
<div class="t" style="right:81.31px;top:364.85px;font-size:13px;color:#089981;font-weight:400;letter-spacing:0.3px;">0.497</div>
<div class="t" style="right:15.71px;top:364.85px;font-size:13px;color:#089981;font-weight:400;letter-spacing:0.1px;">0.34%</div>
<div class="t" style="left:1528.32px;top:394.85px;font-size:13px;color:#131722;font-weight:400;letter-spacing:-0.4px;">AUDUSD</div>
<div class="t" style="right:156.71px;top:394.85px;font-size:13px;color:#131722;font-weight:400;letter-spacing:0.35px;"><span style="color:#131722">0.65</span><span style="color:#f23645">39</span><span style="color:#f23645"><span class=sp>9</span></span></div>
<div class="t" style="right:81.31px;top:394.85px;font-size:13px;color:#089981;font-weight:400;letter-spacing:0.3px;">0.00100</div>
<div class="t" style="right:15.71px;top:394.85px;font-size:13px;color:#089981;font-weight:400;letter-spacing:0.1px;">0.15%</div>
<div class="t" style="left:1528.32px;top:424.85px;font-size:13px;color:#131722;font-weight:400;letter-spacing:-0.4px;">USDCHF</div>
<div class="t" style="right:156.71px;top:424.85px;font-size:13px;color:#131722;font-weight:400;letter-spacing:0.35px;"><span style="color:#131722">0.797</span><span style="color:#f23645">09</span></div>
<div class="t" style="right:81.31px;top:424.85px;font-size:13px;color:#089981;font-weight:400;letter-spacing:0.3px;">0.00135</div>
<div class="t" style="right:15.71px;top:424.85px;font-size:13px;color:#089981;font-weight:400;letter-spacing:0.1px;">0.17%</div>
</div></div>
<div id="dt"><div class="inner">
<svg class="abs" width="1820" height="800" viewBox="0 0 1820 800"><g transform="translate(1517,457) scale(1.3333333333333333)"><circle r="9" fill="#aeadba" /><path d="M-1.85,-4.37 L1.85,-4.37 L3.44,-0.93 L-3.44,-0.93 Z" fill="#fff"/><path d="M-5.16,0 L-1.46,0 L-0.26,3.04 L-6.88,3.04 Z" fill="#fff"/><path d="M1.46,0 L5.16,0 L6.88,3.04 L0.26,3.04 Z" fill="#fff"/></g>
<rect x="1708.8" y="448.8" width="6.6" height="6.6" rx="1.6" fill="none" stroke="#131722" stroke-width="1.25" />
<rect x="1718.8" y="448.8" width="6.6" height="6.6" rx="1.6" fill="none" stroke="#131722" stroke-width="1.25" />
<rect x="1708.8" y="458.8" width="6.6" height="6.6" rx="1.6" fill="none" stroke="#131722" stroke-width="1.25" />
<rect x="1718.8" y="458.8" width="6.6" height="6.6" rx="1.6" fill="none" stroke="#131722" stroke-width="1.25" />
<g fill="none" stroke="#131722" stroke-width="1.25"><path d="M1755.8,448.5 H1748.6 A2,2 0 0 0 1746.6,450.5 V463.2 A2,2 0 0 0 1748.6,465.2 H1761.6 A2,2 0 0 0 1763.6,463.2 V459" /><path d="M1752.8,460.3 V457.6 L1761.2,449.2 A1.2,1.2 0 0 1 1762.9,449.2 L1764.1,450.4 A1.2,1.2 0 0 1 1764.1,452.1 L1755.7,460.3 Z M1760.2,450.3 L1763,453.1" /></g>
<circle cx="1786.4" cy="457.5" r="2.0" fill="none" stroke="#131722" stroke-width="1.25" />
<circle cx="1793.5" cy="457.5" r="2.0" fill="none" stroke="#131722" stroke-width="1.25" />
<circle cx="1800.6" cy="457.5" r="2.0" fill="none" stroke="#131722" stroke-width="1.25" />
<g fill="none" stroke="#6a6d78" stroke-width="1.1"><path d="M1616,486.5 H1611.5 V497 H1622 V492.5" /><path d="M1617.5,491 L1622.5,486 M1619,486 H1622.5 V489.5" /></g>
<circle cx="1630.5" cy="492" r="1.3" fill="#9598a1" />
<circle cx="1573.7" cy="513.5" r="1.3" fill="#b2b5be" />
<circle cx="1513.9" cy="580.8" r="3.5" fill="#089981" />
<rect x="1505" y="601.8" width="299.2" height="39.9" rx="7" fill="#e9e3f4" />
<path d="M1522.6,616.6 L1516.2,623.2 L1519.6,623.2 L1516.9,627.6 L1523.4,621.2 L1520.0,621.2 Z" fill="#6e3ce0" />
<circle cx="1601.3" cy="614.5" r="1.3" fill="#9598a1" />
<path d="M1787.5,618.5 L1791,622 L1787.5,625.5" fill="none" stroke="#131722" stroke-width="1.3" />
<line x1="1550.5" y1="691" x2="1550.5" y2="800" stroke="#d1d4dc" stroke-dasharray="4 4" />
<line x1="1621.5" y1="691" x2="1621.5" y2="800" stroke="#d1d4dc" stroke-dasharray="4 4" />
<line x1="1693.5" y1="691" x2="1693.5" y2="800" stroke="#d1d4dc" stroke-dasharray="4 4" />
<line x1="1763.5" y1="691" x2="1763.5" y2="800" stroke="#d1d4dc" stroke-dasharray="4 4" />
<line x1="1505" y1="792.5" x2="1803" y2="792.5" stroke="#b2b5be" />
<polyline points="1505.0,794.0 1506.4,794.8 1507.8,793.7 1509.2,791.1 1510.6,790.4 1512.0,790.0 1513.3,789.3 1514.7,792.6 1516.0,791.1 1517.3,792.1 1518.7,793.7 1520.0,796.0 1521.4,795.2 1522.9,796.7 1524.3,796.2 1525.7,796.7 1527.1,798.0 1528.6,798.5 1530.0,801.0 1531.3,800.3 1532.6,798.7 1534.0,802.4 1535.3,801.2 1536.6,799.0 1537.9,799.4 1539.2,799.7 1540.6,799.7 1541.9,798.6 1543.2,801.7 1544.5,802.2 1545.8,799.8 1547.2,799.8 1548.5,798.0 1549.8,798.0 1551.1,798.9 1552.5,798.5 1553.8,800.9 1555.1,797.9 1556.4,797.2 1557.7,801.2 1559.1,799.2 1560.4,797.5 1561.7,799.1 1563.0,796.8 1564.3,798.9 1565.7,800.8 1567.0,800.2 1568.3,798.5 1570.0,797.0 1571.6,792.6 1573.3,791.3 1574.6,788.3 1575.9,785.1 1577.2,785.3 1578.6,781.9 1579.9,780.6 1581.2,777.0 1582.7,777.7 1584.1,778.6 1585.5,782.6 1587.0,782.7 1588.4,785.1 1589.9,784.8 1591.3,784.8 1592.7,785.1 1594.2,785.0 1595.6,784.2 1597.0,781.5 1598.4,781.4 1599.9,779.2 1601.3,778.4 1602.7,780.6 1604.2,784.9 1605.6,791.3 1607.0,791.5 1608.5,792.6 1609.9,795.6 1611.4,797.9 1612.8,797.1 1614.2,796.4 1615.7,798.1 1617.2,797.8 1618.6,797.2 1620.0,794.1 1621.5,794.2 1622.9,791.9 1624.3,790.8 1625.8,789.6 1627.2,789.9 1628.6,788.9 1630.1,791.1 1631.5,792.7 1632.9,791.3 1634.4,796.0 1635.8,797.7 1637.3,801.0 1638.7,801.7 1640.2,802.3 1641.6,799.2 1643.0,801.7 1644.5,802.8 1645.9,802.2 1647.3,802.1 1648.8,800.9 1650.2,801.0 1651.6,791.2 1652.9,784.2 1654.3,785.0 1655.8,782.5 1657.2,782.7 1658.6,785.5 1660.1,787.7 1661.5,786.6 1662.9,788.5 1664.3,787.1 1665.8,788.5 1667.2,785.6 1668.7,790.4 1670.1,791.8 1671.5,795.5 1673.0,801.0 1674.4,799.5 1675.9,802.8 1677.3,802.3 1678.7,799.4 1680.1,802.4 1681.6,803.1 1683.0,801.0 1685.2,788.5 1686.6,788.5 1688.1,786.4 1689.5,786.3 1691.2,790.6 1692.8,792.8 1694.5,798.5 1695.9,797.0 1697.2,801.8 1698.6,801.0 1700.0,801.0 1701.5,800.2 1703.0,801.1 1704.5,797.9 1706.0,799.0 1707.5,796.4 1709.0,799.4 1710.5,798.2 1712.0,801.0 1713.4,799.9 1714.8,800.1 1716.3,799.9 1717.7,801.4 1719.1,799.9 1720.5,800.6 1721.9,799.4 1723.3,802.8 1724.8,800.4 1726.2,800.8 1727.6,801.0 1729.1,799.7 1730.5,799.4 1732.0,796.0 1733.3,795.8 1734.7,798.2 1736.0,796.5 1737.3,796.8 1738.7,796.9 1740.0,797.0 1741.7,796.2 1743.3,799.4 1745.0,801.0 1746.4,797.8 1747.8,795.2 1749.2,795.6 1750.6,795.5 1752.0,791.3 1753.5,791.2 1754.9,790.9 1756.3,788.5 1757.8,786.6 1759.2,783.4 1760.6,782.1 1762.1,779.8 1763.5,784.4 1765.0,788.5 1766.4,796.0 1767.8,801.0 1769.6,794.4 1771.4,791.3 1773.1,790.9 1774.8,788.8 1776.5,789.2 1778.1,788.9 1779.7,791.8 1781.3,791.4 1782.9,792.1" fill="none" stroke="#b43ce0" stroke-width="1.3" stroke-linejoin="round" />
<polyline points="1505.0,794.0 1506.5,793.6 1507.9,793.1 1509.3,795.9 1510.8,793.5 1512.2,796.2 1513.7,796.4 1515.3,796.4 1516.8,795.6 1518.4,798.4 1520.0,799.0 1521.4,797.1 1522.9,799.3 1524.3,797.8 1525.7,798.2 1527.1,800.1 1528.6,802.3 1530.0,801.0 1531.4,799.1 1532.9,799.4 1534.3,801.2 1535.7,802.6 1537.1,800.7 1538.6,799.6 1540.0,800.0 1541.4,801.9 1542.7,797.0 1544.1,800.4 1545.5,797.3 1546.9,796.1 1548.2,795.6 1549.6,797.0 1551.0,791.8 1552.5,788.5 1553.9,788.6 1555.3,784.1 1556.8,784.5 1558.2,782.7 1559.7,781.9 1561.1,779.2 1562.5,778.7 1564.0,777.0 1565.4,776.3 1566.8,777.7 1568.3,779.9 1569.7,782.7 1571.2,779.3 1572.6,773.8 1574.0,768.9 1575.5,765.5 1576.9,762.5 1578.4,758.5 1579.8,755.4 1581.2,752.5 1582.7,753.0 1584.1,749.7 1585.5,751.6 1587.0,750.3 1588.4,752.5 1589.8,757.2 1591.3,761.2 1592.7,761.8 1594.2,763.9 1595.6,762.6 1597.0,764.7 1598.5,763.5 1599.9,765.5 1601.3,763.5 1602.8,755.0 1604.2,752.5 1605.6,748.3 1607.1,746.1 1608.5,741.0 1610.0,730.7 1611.4,723.8 1612.8,729.5 1614.3,735.3 1616.1,726.6 1617.9,722.4 1619.7,729.7 1621.5,735.3 1623.2,733.0 1625.0,728.1 1625.8,742.5 1627.2,743.8 1628.7,746.2 1630.1,745.4 1631.8,740.7 1633.4,738.7 1635.1,733.9 1636.9,740.1 1638.7,745.4 1640.1,744.3 1641.6,742.3 1643.0,742.7 1644.4,739.6 1645.8,736.0 1647.3,728.1 1648.7,728.0 1650.2,728.9 1651.6,728.1 1653.4,726.7 1655.2,729.5 1656.6,738.4 1657.9,745.4 1659.7,746.1 1661.5,745.4 1662.9,756.1 1664.3,758.5 1665.8,756.1 1667.2,747.5 1668.9,755.5 1670.6,759.4 1672.3,766.9 1674.0,762.8 1675.6,760.5 1677.3,756.1 1678.8,748.5 1680.2,745.4 1681.6,744.2 1683.1,741.9 1684.5,742.5 1686.0,739.2 1687.4,739.6 1688.8,741.1 1690.2,748.1 1691.7,748.6 1693.1,754.0 1694.5,753.1 1696.0,754.7 1697.8,750.9 1699.6,748.2 1701.7,732.4 1703.1,733.2 1704.6,728.5 1706.0,729.5 1707.8,725.3 1709.6,721.6 1711.4,725.1 1713.2,728.1 1715.0,726.0 1716.8,720.2 1718.2,726.3 1719.7,731.1 1721.1,733.9 1722.9,728.9 1724.7,726.0 1726.2,724.5 1727.6,723.8 1728.3,707.3 1729.8,702.3 1731.2,698.7 1733.3,707.3 1734.8,706.2 1736.2,701.5 1737.7,711.9 1739.1,718.0 1740.5,715.6 1742.0,716.6 1744.1,728.1 1745.8,729.2 1747.5,732.1 1749.2,736.0 1750.6,732.1 1752.1,730.7 1753.5,728.1 1754.9,730.7 1756.3,731.3 1757.8,732.2 1759.2,736.7 1760.6,734.9 1762.1,733.2 1763.5,732.4 1765.0,730.4 1766.4,729.9 1767.8,726.3 1769.3,723.1 1770.7,728.6 1772.1,733.9 1773.9,740.2 1775.7,745.4 1777.4,744.8 1779.1,740.3 1780.8,741.0 1782.2,745.1 1783.7,746.7 1785.1,747.5" fill="none" stroke="#c2255c" stroke-width="1.3" stroke-linejoin="round" />
<polyline points="1505.1,790.6 1507.2,789.0 1509.4,787.0 1511.1,786.8 1512.7,786.3 1514.4,784.2 1516.6,784.0 1518.7,784.2 1520.4,785.4 1522.0,786.1 1523.7,787.0 1525.9,778.4 1528.1,776.6 1530.2,774.8 1531.8,775.2 1533.5,774.3 1535.1,774.4 1536.7,774.1 1538.8,771.9 1541.0,769.8 1542.8,773.7 1544.6,775.8 1546.4,779.0 1548.2,780.6 1550.3,777.5 1552.5,771.9 1554.4,768.4 1556.3,766.3 1558.2,763.3 1560.0,765.6 1561.8,766.4 1563.6,765.5 1565.4,767.6 1567.6,762.6 1569.7,759.7 1571.8,761.0 1574.0,762.6 1576.2,790.6 1578.3,790.6 1580.5,780.5 1582.7,772.7 1584.7,770.2 1586.7,767.9 1588.6,767.8 1590.6,765.5 1592.4,768.4 1594.2,770.9 1595.9,771.0 1597.7,774.1 1599.5,772.6 1601.3,769.8 1603.1,771.0 1604.9,770.3 1606.7,773.0 1608.5,772.7 1610.7,771.1 1612.8,766.9 1614.7,766.6 1616.7,769.1 1618.6,768.3 1621.5,758.3 1623.7,751.2 1625.8,744.6 1627.6,744.0 1629.4,744.9 1631.2,744.0 1633.0,742.5 1634.9,743.5 1636.8,746.1 1638.7,748.2 1640.6,747.3 1642.5,745.9 1644.4,745.4 1646.3,744.0 1648.3,743.9 1650.2,743.9" fill="none" stroke="#2e62f0" stroke-width="3" stroke-linejoin="round" />
<circle cx="1650.2" cy="744.6" r="4" fill="#2e62f0" /></svg>
<div class="t" style="left:1536.52px;top:450.65px;font-size:13px;color:#131722;font-weight:700;letter-spacing:-0.5px;">XAGUSD</div>
<div class="t" style="left:1504.46px;top:485.64px;font-size:12.4px;color:#131722;font-weight:400;">Silver / U.S. Dollar</div>
<div class="t" style="left:1638.26px;top:485.64px;font-size:12.4px;color:#131722;font-weight:400;letter-spacing:-1px;">TRADU</div>
<div class="t" style="left:1504.46px;top:507.14px;font-size:12.4px;color:#9598a1;font-weight:400;">Commodity</div>
<div class="t" style="left:1579.76px;top:507.14px;font-size:12.4px;color:#9598a1;font-weight:400;">Cfd</div>
<div class="t" style="left:1506.32px;top:540.32px;font-size:28px;color:#0f7f6e;font-weight:700;letter-spacing:1px;">36.611</div>
<div class="t" style="left:1601.31px;top:554.18px;font-size:11.5px;color:#131722;font-weight:400;letter-spacing:-0.6px;">USD</div>
<div class="t" style="left:1630.67px;top:551.73px;font-size:15.5px;color:#d43d4d;font-weight:700;letter-spacing:0.7px;">−0.111</div>
<div class="t" style="left:1691.07px;top:551.73px;font-size:15.5px;color:#d43d4d;font-weight:700;letter-spacing:0px;">−0.30%</div>
<div class="t" style="left:1522.52px;top:574.45px;font-size:13px;color:#1a9a82;font-weight:400;">Market open</div>
<div class="t" style="left:1531.79px;top:608.44px;font-size:11.8px;color:#131722;font-weight:400;">2 hours ago</div>
<div class="t" style="left:1608.67px;top:608.24px;font-size:12.2px;color:#131722;font-weight:400;">Gold drops to over 1-week low</div>
<div class="t" style="left:1531.77px;top:624.04px;font-size:12.2px;color:#131722;font-weight:400;">as firmer US dollar, yields weigh</div>
<div class="t" style="left:1504.42px;top:668.15px;font-size:13px;color:#131722;font-weight:700;letter-spacing:-0.45px;">Seasonals</div>
</div></div>
<svg class="abs" width="1820" height="800" style="pointer-events:none"><rect x="1487.5" y="788.5" width="7.5" height="16" rx="3.5" fill="#fff" stroke="#dedede" /><path d="M1489.3,797.3 L1491.6,799.8" stroke="#8a8a8a" stroke-width="1" /></svg>
</body></html>
